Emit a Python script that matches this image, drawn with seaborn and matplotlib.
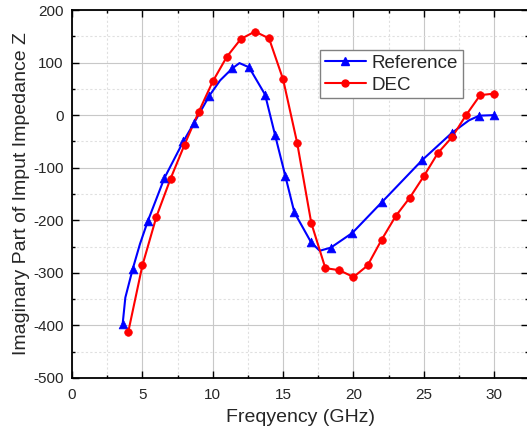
import numpy as np
import pandas as pd
import seaborn as sns
import matplotlib
matplotlib.use("Agg")
import matplotlib.pyplot as plt
from matplotlib.lines import Line2D
from matplotlib.ticker import MultipleLocator

# Reference curve (blue triangles); some vertices carry no marker
ref_f = [3.6, 3.79, 4.31, 4.83, 5.38, 6.56, 7.91, 8.67, 9.76, 10.52, 11.39, 11.9,
         12.58, 13.72, 14.43, 15.16, 15.8, 16.99, 17.6, 18.39, 19.92, 22.0, 24.9,
         26.98, 28.2, 28.93, 30.0]
ref_z = [-397, -347, -293, -245, -202, -120, -50, -15, 37, 66, 89, 99,
         91, 39, -38, -116, -185, -242, -258, -252, -224, -166, -85,
         -34, -10, -1, 0]
ref_mark = [1, 0, 1, 0, 1, 1, 1, 1, 1, 0, 1, 0,
            1, 1, 1, 1, 1, 1, 0, 1, 1, 1, 1,
            1, 0, 1, 1]

# DEC curve (red circles)
dec_f = list(range(4, 31))
dec_z = [-412, -286, -193, -121, -56, 6, 64, 111, 145, 159, 146, 68, -53,
         -205, -291, -295, -308, -286, -237, -192, -157, -116, -72, -42, 0, 38, 41]

ref = pd.DataFrame({"f": ref_f, "z": ref_z, "m": ref_mark})
dec = pd.DataFrame({"f": dec_f, "z": dec_z})

sns.set_style("ticks")
plt.rcParams["font.family"] = ["Liberation Sans", "DejaVu Sans"]
plt.rcParams["axes.unicode_minus"] = False

fig = plt.figure(figsize=(5.27, 4.37), dpi=100)
ax = fig.add_axes([72 / 527, 59 / 437, 456 / 527, 368 / 437])

blue, red = "#0000ff", "#ff0000"
sns.lineplot(data=ref, x="f", y="z", color=blue, lw=1.5, sort=False, ax=ax, zorder=3)
sns.scatterplot(data=ref[ref["m"] == 1], x="f", y="z", color=blue, marker="^",
                s=40, edgecolor=blue, linewidth=0.5, ax=ax, zorder=4)
sns.lineplot(data=dec, x="f", y="z", color=red, lw=1.5, sort=False, ax=ax, zorder=3)
sns.scatterplot(data=dec, x="f", y="z", color=red, marker="o",
                s=30, edgecolor=red, linewidth=0.5, ax=ax, zorder=4)

ax.set_xlim(0, 32.4)
ax.set_ylim(-500, 200)
ax.xaxis.set_major_locator(MultipleLocator(5))
ax.xaxis.set_minor_locator(MultipleLocator(2.5))
ax.yaxis.set_major_locator(MultipleLocator(100))
ax.yaxis.set_minor_locator(MultipleLocator(50))
ax.grid(which="major", color="#c8c8c8", lw=0.8, ls="-")
ax.grid(which="minor", color="#e0e0e0", lw=0.8, ls=(0, (2, 2)))
ax.set_axisbelow(True)
ax.tick_params(which="both", direction="in", top=True, right=True,
               labelsize=11, width=1.0, color="black")
ax.tick_params(which="major", length=5)
ax.tick_params(which="minor", length=2.5)
ax.tick_params(axis="x", which="both", pad=7)
ax.tick_params(axis="y", which="both", pad=6)
for s in ax.spines.values():
    s.set_linewidth(1.3)
    s.set_color("black")

ax.set_xlabel("Freqyency (GHz)", fontsize=14, labelpad=5)
ax.set_ylabel("Imaginary Part of Imput Impedance Z", fontsize=14, labelpad=2)

handles = [Line2D([], [], color=blue, lw=1.5, marker="^", ms=6),
           Line2D([], [], color=red, lw=1.5, marker="o", ms=5)]
leg = ax.legend(handles, ["Reference", "DEC"], loc="upper left",
                bbox_to_anchor=((320 - 72) / 456, (378 - 50) / 368),
                fontsize=13.5, frameon=True, fancybox=False, framealpha=1,
                edgecolor="#808080", handlelength=2.2, handletextpad=0.3,
                borderpad=0.25, labelspacing=0.25, borderaxespad=0)
leg.get_frame().set_linewidth(1.0)

fig.savefig("out.png", dpi=100)
